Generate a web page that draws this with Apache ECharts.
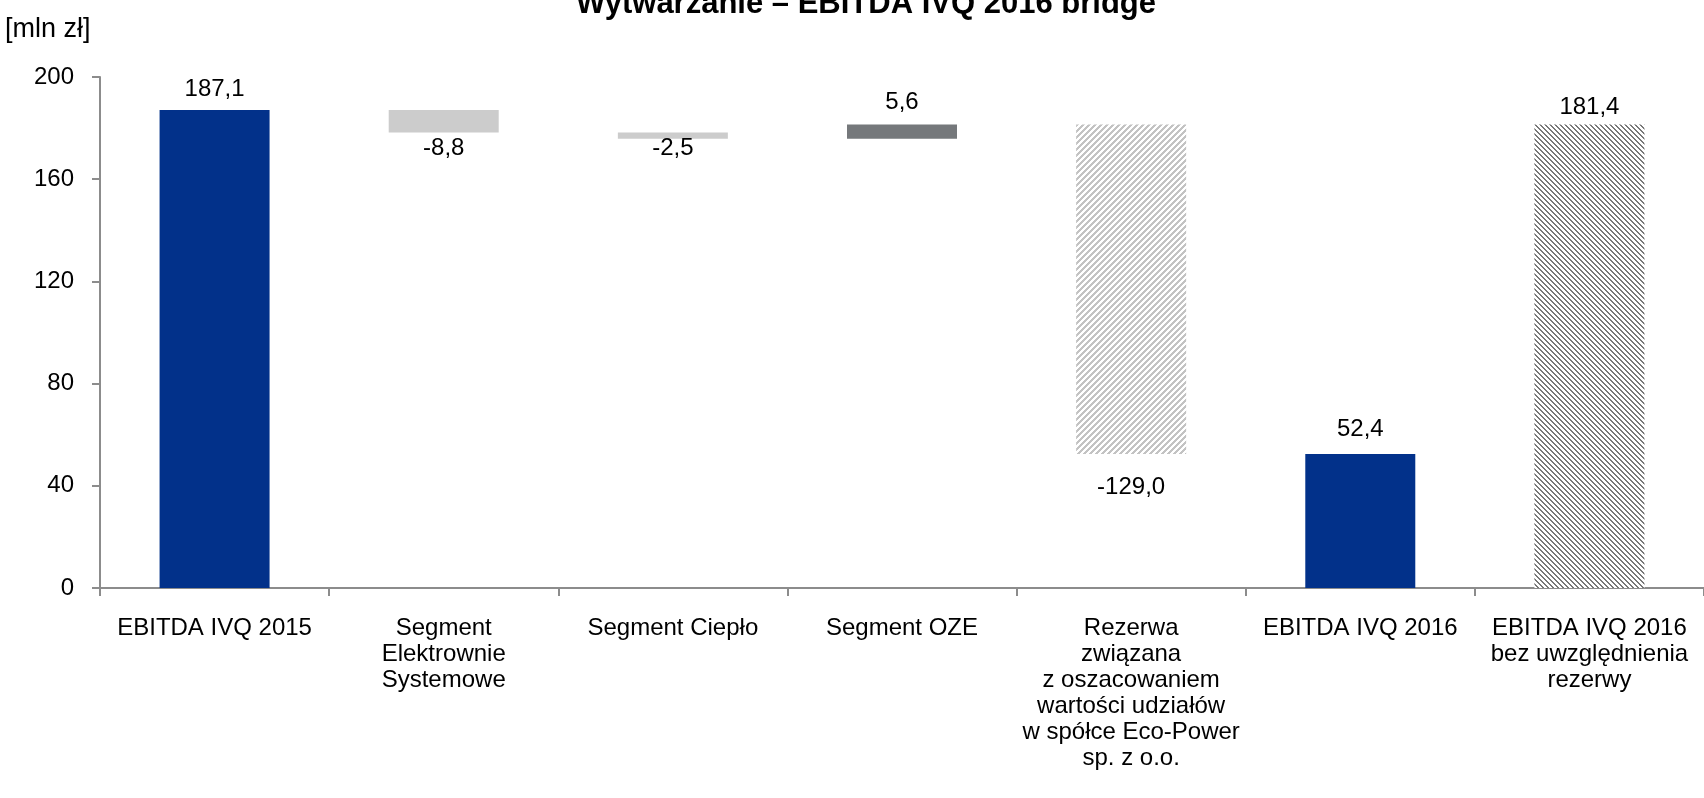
<!DOCTYPE html>
<html>
<head>
<meta charset="utf-8">
<script src="https://cdn.jsdelivr.net/npm/echarts@6/dist/echarts.min.js"></script>
<style>
html,body{margin:0;padding:0;background:#fff;}
#chart{width:1704px;height:798px;}
</style>
</head>
<body>
<div id="chart"></div>
<script>
// ---- data ----
var categories = [
  'EBITDA IVQ 2015',
  'Segment\nElektrownie\nSystemowe',
  'Segment Ciepło',
  'Segment OZE',
  'Rezerwa\nzwiązana\nz oszacowaniem\nwartości udziałów\nw spółce Eco-Power\nsp. z o.o.',
  'EBITDA IVQ 2016',
  'EBITDA IVQ 2016\nbez uwzględnienia\nrezerwy'
];
var values = [187.1, -8.8, -2.5, 5.6, -129.0, 52.4, 181.4];
var kinds = ['total', 'delta', 'delta', 'delta', 'delta', 'total', 'total'];
var yTicks = [0, 40, 80, 120, 160, 200];
var titleText = 'Wytwarzanie – EBITDA IVQ 2016 bridge';
var unitText = '[mln zł]';

// ---- styles ----
var FONT = 'Liberation Sans';
function hatch(color, period, width, forward) {
  var c = document.createElement('canvas');
  c.width = period; c.height = period;
  var ctx = c.getContext('2d');
  ctx.fillStyle = '#ffffff';
  ctx.fillRect(0, 0, period, period);
  ctx.fillStyle = color;
  for (var y = 0; y < period; y++) {
    for (var x = 0; x < period; x++) {
      var v = forward ? (x + y) : (x - y);
      v = ((v % period) + period) % period;
      if (v < width) ctx.fillRect(x, y, 1, 1);
    }
  }
  return {image: c, repeat: 'repeat'};
}
var colors = ['#02318A', '#CCCCCC', '#CCCCCC', '#75787B',
  hatch('#C3C3C3', 6, 3, true), '#02318A', hatch('#787878', 5, 2, false)];
var labelDist = [9, 4, -2, 10, 21, 13, 5];

// ---- waterfall computation ----
var base = [], bar = [];
var running = 0;
for (var i = 0; i < values.length; i++) {
  var v = values[i];
  if (kinds[i] === 'total') {
    base.push(0); bar.push(v); running = v;
  } else {
    var next = running + v;
    base.push(Math.min(running, next));
    bar.push(Math.abs(v));
    running = next;
  }
}
function fmt(v) { return v.toFixed(1).replace('.', ','); }

var barData = bar.map(function (h, i) {
  return {
    value: h,
    itemStyle: {color: colors[i]},
    label: {
      position: values[i] < 0 ? 'bottom' : 'top',
      distance: labelDist[i],
      formatter: fmt(values[i])
    }
  };
});

var chart = echarts.init(document.getElementById('chart'), null, {renderer: 'canvas'});
chart.setOption({
  animation: false,
  backgroundColor: '#ffffff',
  textStyle: {fontFamily: FONT},
  graphic: [{
    type: 'text', x: 866, y: 4,
    style: {text: titleText, fontFamily: FONT, fontSize: 31, fontWeight: 'bold', fill: '#000',
      align: 'center', verticalAlign: 'middle'}
  }, {
    type: 'text', x: 5, y: 30,
    style: {text: unitText, fontFamily: FONT, fontSize: 27, fill: '#000', verticalAlign: 'middle'}
  }],
  grid: {left: 100, right: -9, top: 77, bottom: 210, containLabel: false},
  xAxis: {
    type: 'category',
    data: categories,
    axisLine: {lineStyle: {color: '#8C8C8C', width: 2}},
    axisTick: {show: true, length: 8, lineStyle: {color: '#8C8C8C', width: 2}, alignWithLabel: false},
    axisLabel: {interval: 0, margin: 27, fontFamily: FONT, fontSize: 24, lineHeight: 26, color: '#000', align: 'center'}
  },
  yAxis: {
    type: 'value',
    min: yTicks[0],
    max: yTicks[yTicks.length - 1],
    interval: yTicks[1] - yTicks[0],
    splitLine: {show: false},
    axisLine: {show: true, lineStyle: {color: '#8C8C8C', width: 2}},
    axisTick: {show: true, length: 8, lineStyle: {color: '#8C8C8C', width: 2}},
    axisLabel: {margin: 26, fontFamily: FONT, fontSize: 24, color: '#000'}
  },
  series: [{
    type: 'bar',
    stack: 'wf',
    data: base,
    itemStyle: {color: 'transparent'},
    emphasis: {disabled: true},
    silent: true,
    barWidth: 110
  }, {
    type: 'bar',
    stack: 'wf',
    data: barData,
    barWidth: 110,
    label: {show: true, fontFamily: FONT, fontSize: 24, color: '#000'}
  }]
});
</script>
</body>
</html>
